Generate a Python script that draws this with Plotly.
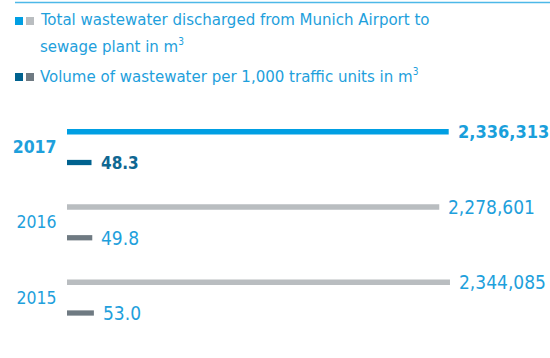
import plotly.graph_objects as go

# Data
years = ["2015", "2016", "2017"]
total_m3 = [2344085, 2278601, 2336313]
per_1000_tu = [53.0, 49.8, 48.3]
total_labels = ["2,344,085", "2,278,601", "2,336,313"]
per_labels = ["53.0", "49.8", "48.3"]

# Styling
W, H = 550, 358
L, R, T, B = 67, 0, 100, 18
FONT = "DejaVu Sans Condensed, sans-serif"
TEXT_BLUE = "#1ea0dc"
BIG_COLORS = ["#b9bdc0", "#b9bdc0", "#009fe3"]
SMALL_COLORS = ["#6f7a82", "#6f7a82", "#00628f"]
LABEL_COLORS_BIG = [TEXT_BLUE, TEXT_BLUE, "#1a9fdb"]
LABEL_COLORS_SMALL = [TEXT_BLUE, TEXT_BLUE, "#0f6792"]
BOLD = [False, False, True]

X1_MAX = 2956300   # range of the total-volume axis
X2_MAX = 952       # range of the per-traffic-unit axis
Y_RANGE = [-0.5648, 2.6246]
BIG_CENTER, SMALL_CENTER, BAR_W = 0.2027, -0.206, 0.07

pos = list(range(len(years)))

def px_x(px):
    return (px - L) / (W - L - R)

def px_y(py):
    return (H - B - py) / (H - T - B)

fig = go.Figure()
fig.add_trace(go.Bar(
    y=pos, x=total_m3, orientation="h", xaxis="x", yaxis="y",
    width=BAR_W, offset=BIG_CENTER - BAR_W / 2,
    marker=dict(color=BIG_COLORS, line=dict(width=0)),
    hoverinfo="skip", showlegend=False,
))
fig.add_trace(go.Bar(
    y=pos, x=per_1000_tu, orientation="h", xaxis="x2", yaxis="y",
    width=BAR_W, offset=SMALL_CENTER - BAR_W / 2,
    marker=dict(color=SMALL_COLORS, line=dict(width=0)),
    hoverinfo="skip", showlegend=False,
))

annotations = []
for i, p in enumerate(pos):
    bold = BOLD[i]
    fmt = (lambda s: f"<b>{s}</b>") if bold else (lambda s: s)
    annotations.append(dict(
        x=total_m3[i], y=p + BIG_CENTER, xref="x", yref="y",
        text=fmt(total_labels[i]), showarrow=False, xanchor="left", yanchor="middle",
        xshift=7, font=dict(family=FONT, size=18 if bold else 19, color=LABEL_COLORS_BIG[i]),
    ))
    annotations.append(dict(
        x=per_1000_tu[i], y=p + SMALL_CENTER, xref="x2", yref="y",
        text=fmt(per_labels[i]), showarrow=False, xanchor="left", yanchor="middle",
        xshift=7, font=dict(family=FONT, size=17 if bold else 19, color=LABEL_COLORS_SMALL[i]),
    ))

# Legend text
legend_font = dict(family=FONT, size=16.7, color=TEXT_BLUE)
SUP3 = "<sup><span style='font-size:10px'>3</span></sup>"
annotations += [
    dict(x=px_x(38), y=px_y(19), xref="paper", yref="paper", showarrow=False,
         xanchor="left", yanchor="middle", font=legend_font,
         text="Total wastewater discharged from Munich Airport to"),
    dict(x=px_x(38), y=px_y(46), xref="paper", yref="paper", showarrow=False,
         xanchor="left", yanchor="middle", font=legend_font,
         text="sewage plant in m" + SUP3),
    dict(x=px_x(38), y=px_y(76), xref="paper", yref="paper", showarrow=False,
         xanchor="left", yanchor="middle", font=legend_font,
         text="Volume of wastewater per 1,000 traffic units in m" + SUP3),
]

shapes = [
    dict(type="line", xref="paper", yref="paper", x0=px_x(15), x1=px_x(550),
         y0=px_y(2.5), y1=px_y(2.5), line=dict(color="#4db8e8", width=1.5)),
]
legend_swatches = [
    (17, ["#009fe3", "#b9bdc0"]),
    (73, ["#00628f", "#6f7a82"]),
]
for top, cols in legend_swatches:
    for k, c in enumerate(cols):
        x0 = 15 + 11 * k
        shapes.append(dict(type="rect", xref="paper", yref="paper",
                           x0=px_x(x0), x1=px_x(x0 + 8), y0=px_y(top), y1=px_y(top + 8),
                           fillcolor=c, line=dict(width=0)))

fig.update_layout(
    width=W, height=H, margin=dict(l=L, r=R, t=T, b=B),
    paper_bgcolor="white", plot_bgcolor="white",
    barmode="overlay",
    xaxis=dict(range=[0, X1_MAX], visible=False, fixedrange=True),
    xaxis2=dict(range=[0, X2_MAX], overlaying="x", visible=False, fixedrange=True),
    yaxis=dict(range=Y_RANGE, tickvals=pos,
               ticktext=[f"<b>{y}</b>" if b else y for y, b in zip(years, BOLD)],
               tickfont=dict(family=FONT, size=17.5, color=TEXT_BLUE),
               ticks="outside", ticklen=6, tickcolor="rgba(0,0,0,0)",
               showgrid=False, zeroline=False, showline=False, fixedrange=True),
    annotations=annotations, shapes=shapes,
)

fig.write_html("out.html")
